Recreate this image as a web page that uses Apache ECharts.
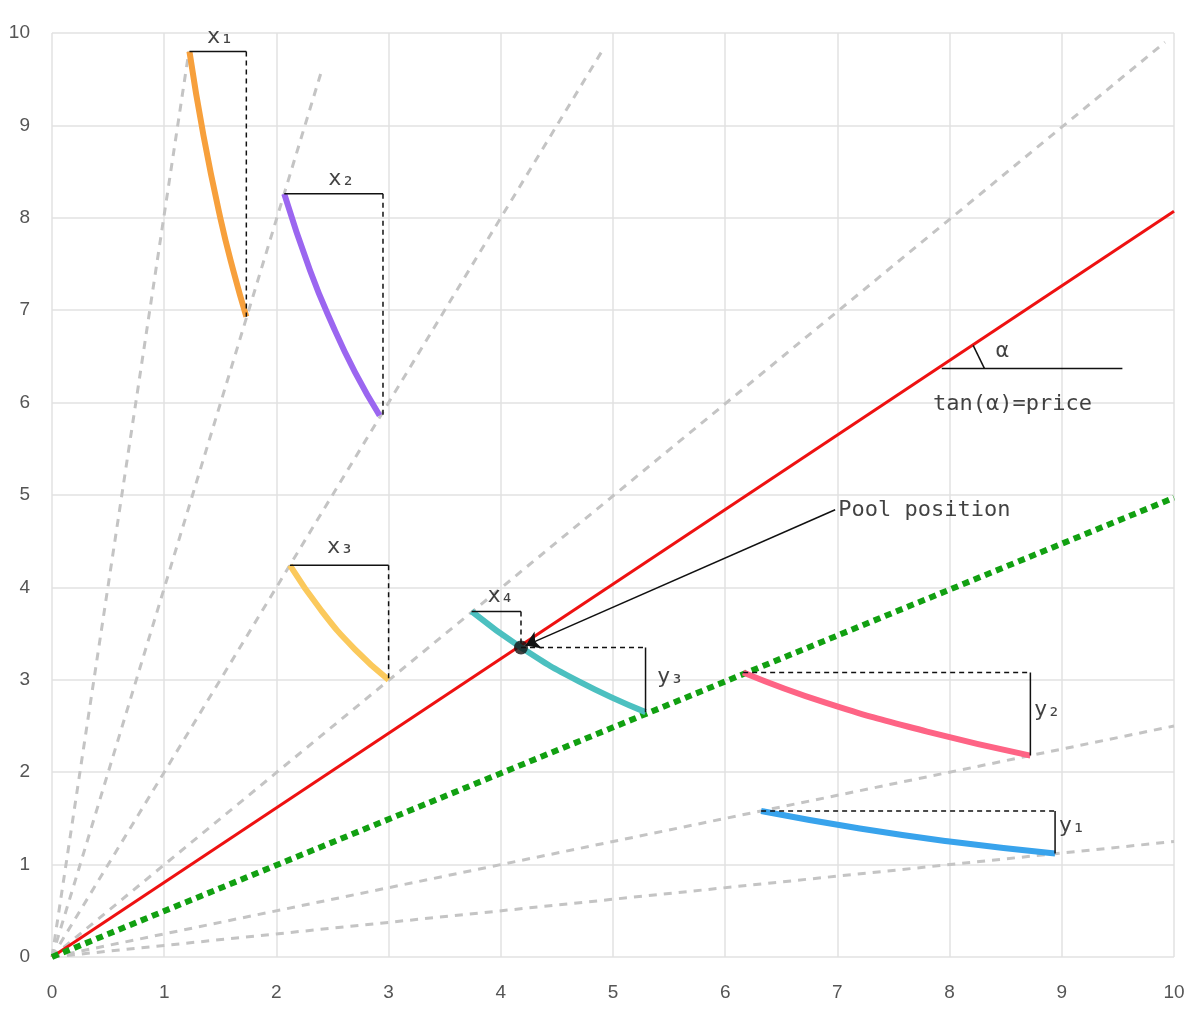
<!DOCTYPE html>
<html style="height: 100%;">
<head>
<meta charset="utf-8">
<title>Liquidity curves</title>
<script src="https://cdn.jsdelivr.net/npm/echarts@6/dist/echarts.min.js"></script>
</head>
<body style="height: 100%; margin: 0; background: #fff">
<div id="container" style="width:1200px;height:1017px"></div>
<script>
// gray dashed price rays from the origin
var rays = [[[0,0],[1.22,9.8]], [[0,0],[2.41,9.62]], [[0,0],[4.91,9.82]], [[0,0],[9.92,9.9]], [[0,0],[10,2.5]], [[0,0],[10,1.25]]];
var priceLine = [[0,0],[10,8.07]];
var targetLine = [[0,0],[10,4.97]];
// curves
var orangeCurve = [[1.225,9.8],[1.35,8.89],[1.5,8.0],[1.62,7.41],[1.732,6.93]];
var purpleCurve = [[2.07,8.26],[2.3,7.43],[2.5,6.84],[2.7,6.33],[2.92,5.86]];
var yellowCurve = [[2.12,4.24],[2.4,3.75],[2.7,3.33],[3.0,3.0]];
var tealCurve = [[3.74,3.74],[4.18,3.35],[4.7,2.98],[5.29,2.65]];
var pinkCurve = [[6.16,3.08],[6.9,2.75],[7.8,2.44],[8.72,2.18]];
var blueCurve = [[6.32,1.58],[7.2,1.39],[8.0,1.25],[8.94,1.12]];
var pool = [4.18, 3.35];
// bracket segments: [solid part, dashed part]
var brackets = [
  [[[1.225,9.8],[1.732,9.8]], [[1.732,9.8],[1.732,6.93]]],
  [[[2.07,8.26],[2.95,8.26]], [[2.95,8.26],[2.95,5.86]]],
  [[[2.12,4.24],[3.0,4.24]], [[3.0,4.24],[3.0,3.0]]],
  [[[3.74,3.74],[4.18,3.74]], [[4.18,3.74],[4.18,3.35]]],
  [[[5.29,3.35],[5.29,2.65]], [[4.18,3.35],[5.29,3.35]]],
  [[[8.72,3.08],[8.72,2.18]], [[6.16,3.08],[8.72,3.08]]],
  [[[8.94,1.58],[8.94,1.12]], [[6.32,1.58],[8.94,1.58]]]
];
var textLabels = [
  ['x₁',1.5,9.95], ['x₂',2.58,8.42], ['x₃',2.57,4.43], ['x₄',4.0,3.9],
  ['y₃',5.51,3.03], ['y₂',8.87,2.67], ['y₁',9.09,1.42],
  ['α',8.47,6.55], ['tan(α)=price',8.56,5.98]
];
var alphaLine = [[7.93,6.37],[9.54,6.37]];
var alphaArc = [[8.21,6.62],[8.31,6.37]];
var arrow = [[6.98,4.84],[4.22,3.37]];

var mono = 'DejaVu Sans Mono';
function seg(data, color, width, type, z) {
  return {type:'line', data:data, symbol:'none', silent:true, z:z||2,
    lineStyle:{color:color, width:width, type:type||'solid', cap:'butt'}};
}
function curve(data, color) {
  var s = seg(data, color, 6, 'solid', 4); s.smooth = true; return s;
}
var series = [];
rays.forEach(function(r){ series.push(seg(r, '#c4c4c4', 3, [8,7], 1)); });
series.push(seg(priceLine, '#ee1111', 3, 'solid', 3));
series.push(seg(targetLine, '#11a011', 6, [7,5], 3));
[[orangeCurve,'#f7a03c'],[purpleCurve,'#9b66f0'],[yellowCurve,'#fbc95c'],
 [tealCurve,'#4cc0c0'],[pinkCurve,'#fe6485'],[blueCurve,'#38a3ec']].forEach(function(c){
  series.push(curve(c[0], c[1]));
});
brackets.forEach(function(b){
  series.push(seg(b[0], '#111', 1.5, 'solid', 5));
  series.push(seg(b[1], '#111', 1.5, [5,4], 5));
});
series.push(seg(alphaLine, '#111', 1.5, 'solid', 5));
series.push(seg(alphaArc, '#111', 1.5, 'solid', 5));
series.push({type:'lines', coordinateSystem:'cartesian2d', z:6, silent:true,
  symbol:['none','arrow'], symbolSize:14,
  lineStyle:{color:'#111', width:1.5, opacity:1},
  data:[{coords:arrow}]});
series.push({type:'scatter', data:[pool], symbolSize:14, z:7, silent:true,
  itemStyle:{color:'#111'}});
series.push({type:'scatter', symbolSize:0, z:8, silent:true,
  data:[{value:[6.99,4.84]}],
  label:{show:true, formatter:'Pool position', position:'right', distance:2,
    fontFamily:mono, fontSize:22, color:'#111'}});
series.push({type:'scatter', symbolSize:0, z:8, silent:true,
  data:textLabels.map(function(t){ return {value:[t[1],t[2]], name:t[0]}; }),
  label:{show:true, formatter:'{b}', position:'inside',
    fontFamily:mono, fontSize:22, color:'#111'}});

var chart = echarts.init(document.getElementById('container'));
chart.setOption({
  animation:false,
  grid:{left:52, right:26, top:33, bottom:60},
  xAxis:{type:'value', min:0, max:10, interval:1,
    axisLine:{show:false}, axisTick:{show:false},
    axisLabel:{color:'#555', fontSize:19, margin:26, fontFamily:'Liberation Sans'},
    splitLine:{lineStyle:{color:'#e2e2e2', width:1.5}}},
  yAxis:{type:'value', min:0, max:10, interval:1,
    axisLine:{show:false}, axisTick:{show:false},
    axisLabel:{color:'#555', fontSize:19, margin:22, fontFamily:'Liberation Sans'},
    splitLine:{lineStyle:{color:'#e2e2e2', width:1.5}}},
  series:series
});
</script>
</body>
</html>
